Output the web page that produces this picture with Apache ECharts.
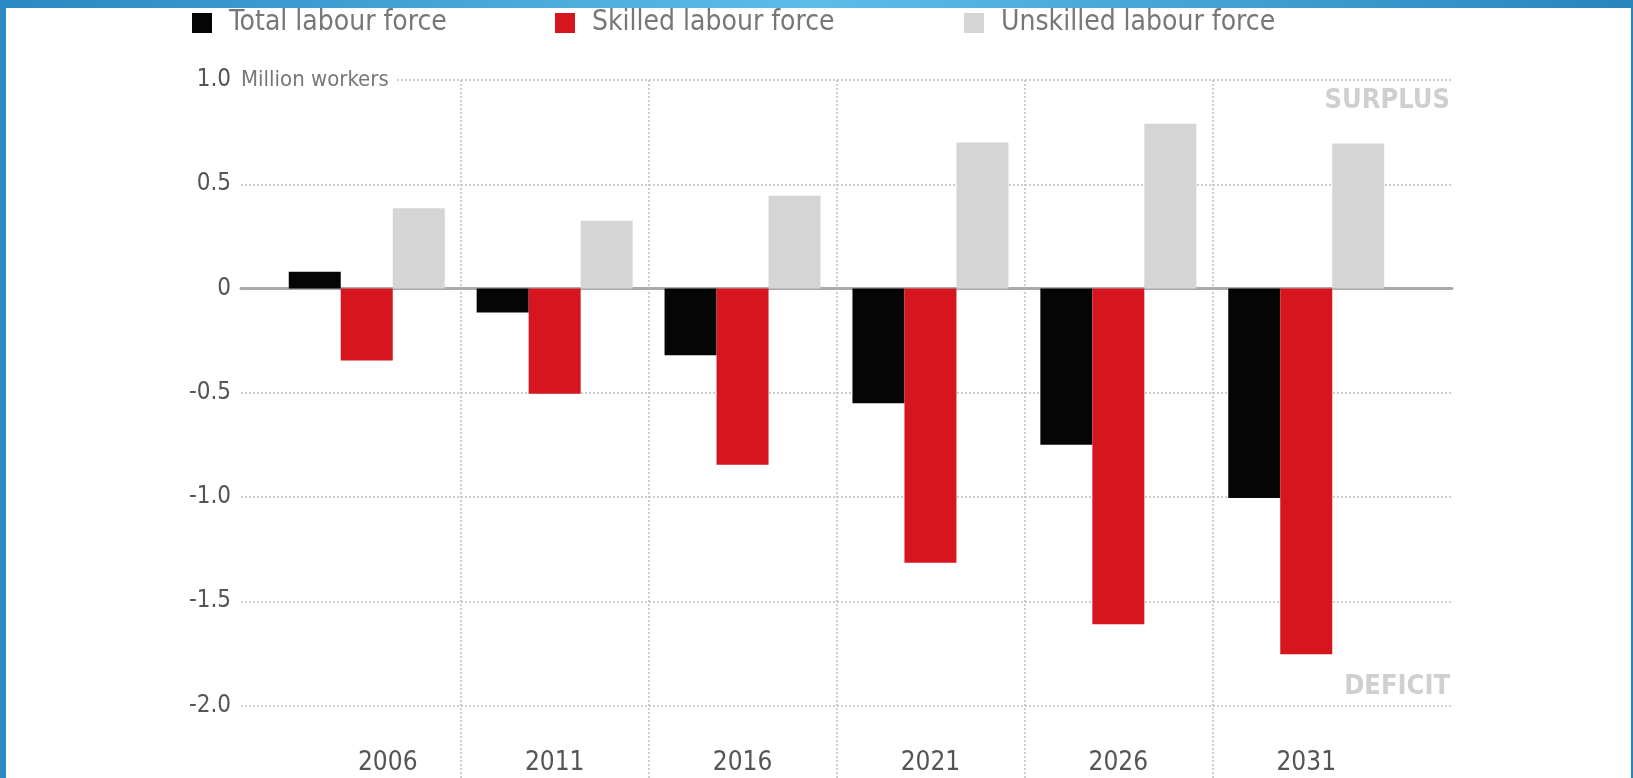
<!DOCTYPE html>
<html>
<head>
<meta charset="utf-8">
<script src="https://cdn.jsdelivr.net/npm/echarts@6/dist/echarts.min.js"></script>
<style>
  html, body { margin: 0; padding: 0; }
  #chart { width: 1633px; height: 778px; }
</style>
</head>
<body>
<div id="chart"></div>
<script>
// Labour force balance, million workers
var years = ['2006', '2011', '2016', '2021', '2026', '2031'];
var totalForce = [0.08, -0.115, -0.32, -0.55, -0.75, -1.005];
var skilledForce = [-0.345, -0.505, -0.845, -1.315, -1.61, -1.755];
var unskilledForce = [0.385, 0.325, 0.445, 0.70, 0.79, 0.695];

var FONT = "'Liberation Sans Narrow', 'DejaVu Sans Condensed', 'Roboto Condensed', sans-serif";
var dots = { type: [2, 2], color: '#bdbdbd', width: 1.5 };

var chart = echarts.init(document.getElementById('chart'));

function legendFor(name, left) {
  return {
    data: [name],
    left: left,
    top: 4,
    icon: 'rect',
    itemWidth: 20,
    itemHeight: 20,
    selectedMode: false,
    textStyle: { fontFamily: FONT, fontSize: 28, color: '#777', padding: [0, 0, 0, 12] }
  };
}

var option = {
  backgroundColor: {
    type: 'linear', x: 0, y: 0, x2: 1, y2: 0,
    colorStops: [
      { offset: 0, color: '#2a88c2' },
      { offset: 0.5, color: '#5cbde9' },
      { offset: 1, color: '#2a84bd' }
    ]
  },
  animation: false,
  legend: [
    legendFor('Total labour force', 187),
    legendFor('Skilled labour force', 550),
    legendFor('Unskilled labour force', 959)
  ],
  graphic: [
    { type: 'rect', z: -10, shape: { x: 6, y: 8, width: 1625, height: 770 }, style: { fill: '#fff' } },
    {
      type: 'text', z: 100, x: 241, y: 80,
      style: {
        text: 'Million workers', fontFamily: FONT, fontSize: 22, fill: '#777',
        verticalAlign: 'middle', backgroundColor: '#fff', padding: [2, 8, 2, 0]
      }
    },
    {
      type: 'text', z: 100, x: 1450, y: 101,
      style: { text: 'SURPLUS', fontFamily: FONT, fontSize: 27, fontWeight: 'bold', fill: '#cfcfcf', align: 'right', verticalAlign: 'middle' }
    },
    {
      type: 'text', z: 100, x: 1450, y: 687,
      style: { text: 'DEFICIT', fontFamily: FONT, fontSize: 27, fontWeight: 'bold', fill: '#cfcfcf', align: 'right', verticalAlign: 'middle' }
    }
  ],
  grid: [
    { left: 241, right: 181, top: 80, bottom: 72.5 },
    { left: 272.8, right: 232.8, top: 80, bottom: 0 }
  ],
  xAxis: [
    {
      type: 'category', gridIndex: 0, data: years,
      axisLine: { onZero: true, lineStyle: { color: '#a9a9a9', width: 3 } },
      axisTick: { show: false }, axisLabel: { show: false }, splitLine: { show: false }
    },
    {
      type: 'category', gridIndex: 1, data: years,
      axisLine: { show: false }, axisTick: { show: false },
      splitLine: { show: true, showMinLine: false, showMaxLine: false, lineStyle: dots },
      axisLabel: {
        inside: true, margin: 2, fontFamily: FONT, fontSize: 26, color: '#555',
        formatter: function (v, i) { return i === 0 ? '{a|' + v + '}' : v; },
        rich: { a: { fontFamily: FONT, fontSize: 26, color: '#555', padding: [0, 0, 0, 42] } }
      }
    }
  ],
  yAxis: [
    {
      type: 'value', gridIndex: 0, min: -2, max: 1, interval: 0.5,
      axisLine: { show: false }, axisTick: { show: false },
      splitLine: { lineStyle: dots },
      axisLabel: {
        margin: 10, fontFamily: FONT, fontSize: 24, color: '#555',
        formatter: function (v) { return v === 0 ? '0' : v.toFixed(1); }
      }
    },
    {
      type: 'value', gridIndex: 1, min: -2.348, max: 1, show: false
    }
  ],
  series: [
    { name: 'Total labour force', type: 'bar', xAxisIndex: 1, yAxisIndex: 1, data: totalForce,
      barWidth: 52, barGap: '0%', itemStyle: { color: '#050505' } },
    { name: 'Skilled labour force', type: 'bar', xAxisIndex: 1, yAxisIndex: 1, data: skilledForce,
      barWidth: 52, barGap: '0%', itemStyle: { color: '#d7151f' } },
    { name: 'Unskilled labour force', type: 'bar', xAxisIndex: 1, yAxisIndex: 1, data: unskilledForce,
      barWidth: 52, barGap: '0%', itemStyle: { color: '#d5d5d5' } }
  ]
};

chart.setOption(option);
</script>
</body>
</html>
